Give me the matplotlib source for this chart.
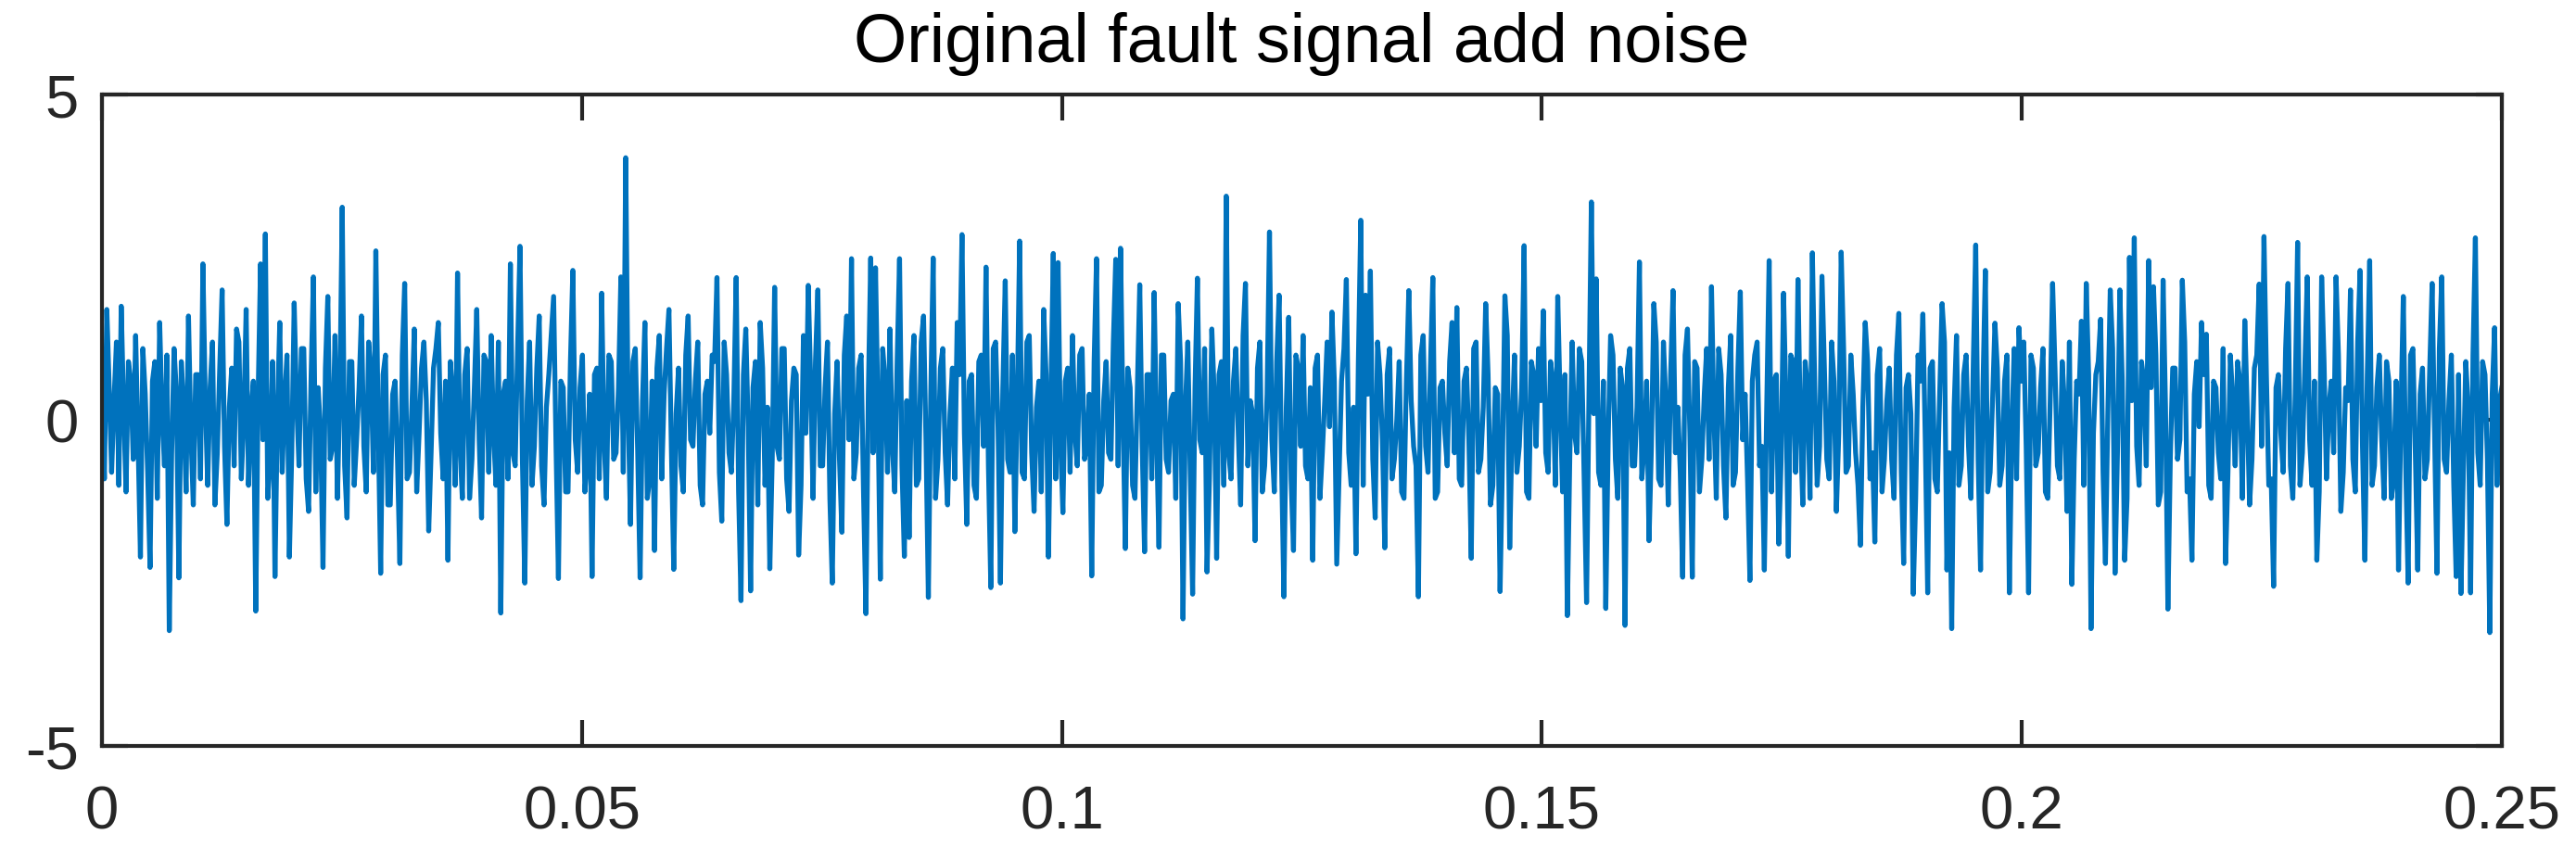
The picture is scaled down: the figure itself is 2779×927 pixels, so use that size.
import numpy as np
import matplotlib
matplotlib.use("Agg")
import matplotlib.pyplot as plt

plt.rcParams['font.family'] = ['Liberation Sans', 'DejaVu Sans']
plt.rcParams['axes.unicode_minus'] = False

# sygnal, 5 odcinkow po 0.05 s (wierzcholki)
odc1 = [0.3, 1.7, -0.8, 1.2, 1.75, -1.1, 0.6, 1.3, -2.1, 0.4,
        -2.26, 0.9, 1.5, -0.7, -3.23, 1.1, -2.42, 0.2, 1.6, -1.3,
        0.7, 2.4, -1.0, 1.2, -0.5, 2.0, -1.6, 0.8, 1.4, -0.9,
        1.7, 0.1, -2.93, 2.4, 2.86, -0.6, -2.4, 1.5, 0.3, -2.1,
        1.8, -0.7, 1.1, -1.4, 2.2, 0.5, -2.26, 1.9, -0.4, -1.2,
        3.27, -1.5, 0.9, -0.3, 1.6, -1.1, 0.7, 2.6, -2.35, 1.0,
        -1.3, 0.6, -2.2, 2.1, -0.8, 1.4, -0.2, 1.2, -1.7, 0.8,
        1.5, -0.9, -2.15, 0.4, 2.26, -1.2, 1.1, -0.6, 1.7, -1.5,
        0.9, 1.3, -1.0, -2.96, 0.6, 2.4, -0.7, 2.67, -2.5, 1.2,
        -0.4, 1.6, -1.3, 0.7, 1.9, -2.43, 0.5, -1.1, 2.3, -0.8]
odc2 = [1.0, -0.6, -2.4, 0.8, 1.95, -1.2, 0.9, -0.5, 2.2, 4.03,
        -1.6, 1.1, -2.42, 1.5, -0.9, -2.0, 1.3, 0.4, 1.7, -2.29,
        0.8, -1.1, 1.6, -0.4, 1.2, -1.3, 0.6, 1.0, 2.19, -1.55,
        0.7, -0.8, 2.19, -2.77, 1.4, -2.62, 0.9, 1.5, -1.0, -2.28,
        2.04, -0.6, 1.1, -1.4, 0.8, -2.07, 1.3, 2.07, -1.2, 2.0,
        -0.7, 1.2, -2.5, 0.9, -1.72, 1.6, 2.48, -0.5, 1.0, -2.97,
        2.49, 2.34, -2.44, 0.6, 1.4, -1.1, 2.48, -2.09, -1.8, 1.3,
        -0.9, 1.6, -2.72, 2.49, -0.6, 1.1, -1.3, 0.8, 1.5, 2.85,
        -1.6, 0.7, -1.2, 1.0, 2.35, -2.57, 1.2, -2.5, 2.14, -0.8,
        -1.71, 2.75, -0.9, 1.3, -1.4, 0.6, 1.7, -2.1, 2.56, 2.42]
odc3 = [-1.42, 0.8, 1.3, -0.7, 1.1, -0.4, -2.39, 2.48, -1.0, 0.9,
        -0.6, 2.47, 2.64, -1.97, 0.5, -1.2, 2.08, -2.02, 0.7, 1.96,
        -1.95, 1.0, -0.8, 0.4, 1.79, -3.05, 1.2, -2.67, 2.18, -0.5,
        -2.33, 1.4, -2.12, 0.9, 3.44, -0.9, 1.1, -1.3, 2.1, 0.3,
        -1.85, 1.2, -0.7, 2.89, -1.1, 1.92, -2.71, 1.58, -2.0, 0.8,
        1.3, -0.9, -2.15, 1.0, -0.5, 1.2, 1.66, -2.21, 0.6, 2.16,
        -1.0, -2.05, 3.07, 1.92, 2.29, -1.5, 0.7, -1.96, 1.1, -0.6,
        0.9, -1.2, 1.99, -0.4, -2.71, 1.3, -0.8, 2.19, -1.1, 0.6,
        -0.7, 1.5, 1.73, -1.0, 0.8, -2.12, 1.2, -0.6, 1.79, -1.3,
        0.5, -2.63, 1.91, -1.96, 1.0, -0.4, 2.68, -1.2, 0.7, 1.1]
odc4 = [1.68, -0.8, 0.6, 1.9, -1.1, -3.0, 1.2, -0.5, 0.9, -2.8,
        3.35, 2.17, -1.0, -2.89, 1.3, -0.6, 0.8, -3.15, 1.1, -0.7,
        2.43, -0.4, -1.85, 1.79, -0.9, 1.2, -1.3, 1.99, 0.2, -2.41,
        1.4, -2.41, 0.8, -0.6, 1.1, 2.05, -1.2, 0.7, -1.5, 1.3,
        -0.8, 1.97, 0.4, -2.46, 1.0, -0.7, -2.3, 2.45, 0.6, -1.9,
        1.95, -2.09, 0.9, 2.16, -1.3, 0.5, 2.57, -1.0, 2.21, -0.6,
        1.2, -1.4, 2.58, -0.8, 1.0, -0.5, -1.92, 1.5, -0.9, -1.87,
        1.1, -0.6, 0.8, -1.2, 1.64, -2.2, 0.7, -2.67, 1.0, 1.63,
        -2.65, 0.9, -1.1, 1.79, -2.3, -3.2, 1.3, -0.7, 1.0, -1.2,
        2.69, -2.3, 2.3, -0.8, 1.49, -1.0, 0.6, -2.65, 1.1, 1.42]
odc5 = [1.2, -2.65, 0.8, -0.5, 1.1, -1.2, 2.1, -0.7, 0.9, -1.4,
        -2.52, 0.6, 1.52, 2.1, -3.2, 0.7, 1.55, -2.2, 2.0, -2.35,
        2.0, -2.15, 2.5, 2.8, -1.0, 0.6, 2.45, 2.05, -1.3, 2.15,
        -2.9, 0.8, -0.6, 2.15, -1.1, -2.15, 0.9, 1.5, 1.32, -1.2,
        0.5, -0.9, -2.2, 1.0, -0.7, 0.6, 1.53, -1.3, 0.8, 2.09,
        2.82, -1.0, -2.55, 0.7, -0.8, 2.1, -1.2, 2.73, -0.5, 2.2,
        -1.0, -2.15, 2.2, -0.9, 0.6, 2.2, -1.4, 0.5, 2.0, -1.1,
        2.3, -2.15, 2.45, -0.7, 1.0, -1.2, 0.6, -0.9, -2.3, 1.9,
        -2.5, 1.1, -2.3, 0.8, -0.6, 2.1, -2.35, 2.2, -0.8, 1.0,
        -2.4, -2.66, 0.9, -2.65, 2.8, -1.0, 0.7, -3.26, 1.42, 0.3]

# probki posrednie (gesty pas wokol zera)
pos1 = [-0.9, 0.5, 0.3, -1.0, 0.2, 0.9, -0.6, -0.3, 1.1, -0.8,
        0.6, -1.2, 0.1, 1.0, -0.5, 0.4, 0.9, -1.1, -0.2, 0.7,
        -0.9, 0.3, 0.5, -1.3, 0.8, -0.4, 0.2, -0.7, 1.2, 0.0,
        -1.0, 0.6, 0.4, -0.3, -1.2, 0.9, 0.1, -0.8, 1.0, -0.5,
        0.3, 1.1, -0.9, 0.6, -1.1, -0.2, 0.8, -0.6, 1.3, 0.4,
        -0.7, 0.9, -1.0, 0.5, -0.4, 1.2, -0.8, -0.1, 0.7, -1.3,
        0.4, -0.6, 1.0, -0.9, 0.2, -1.1, 0.8, 0.3, -0.5, 1.1,
        -0.2, 0.6, 0.9, -1.0, -0.4, 0.7, -1.2, 0.5, -0.3, 1.0,
        -0.8, -0.2, 1.2, 0.4, -0.9, -0.5, 1.1, -0.6, 0.3, -1.0,
        0.8, -0.7, 0.2, 1.3, -0.4, 0.6, -1.1, 0.9, -0.3, 0.5]
pos2 = [-1.1, 0.4, 0.7, -0.9, -0.3, 1.0, -0.6, 0.5, -0.8, 0.2,
        0.9, -0.5, 0.3, -1.2, 0.6, 0.8, -0.9, 1.1, -0.4, 0.1,
        -0.7, 1.0, -0.3, 0.6, -1.0, 0.4, -0.2, 0.9, -0.8, 1.2,
        -0.5, 0.3, -1.1, 0.7, -0.1, 0.5, -1.3, 0.8, 0.2, -0.6,
        -0.4, 1.1, -0.9, 0.3, 0.7, -1.0, -0.2, 0.6, 0.9, -0.7,
        0.5, -1.2, 0.1, -0.6, 1.0, -0.3, -0.9, 0.8, -1.1, 0.4,
        -0.5, 0.2, 1.1, -0.8, -0.4, 0.9, -0.7, 0.3, 0.6, -1.0,
        1.2, -0.3, 0.4, -1.2, 0.8, -0.5, 0.1, -0.9, 0.7, -0.2,
        0.6, -1.0, 0.9, -0.4, -0.7, 1.1, -0.1, 0.5, -0.6, 1.0,
        0.3, -0.8, 1.2, -0.5, 0.2, -1.1, 0.7, 0.4, -0.9, -0.3]
pos3 = [0.6, -0.8, -0.2, 1.0, -0.6, 0.4, 0.9, -1.1, 0.3, -0.5,
        1.2, -0.7, 0.1, 0.8, -1.0, 0.5, -0.4, 0.7, -0.9, -0.2,
        1.0, -0.6, 0.3, -1.2, 0.9, 0.2, -0.8, 0.5, -0.3, 1.1,
        -0.9, 0.4, 0.7, -1.0, -0.5, 0.6, -0.2, 1.3, -0.7, 0.1,
        0.8, -1.1, 0.4, -0.3, 0.9, -0.6, 0.2, -0.9, 1.0, -0.4,
        -0.7, 0.5, 0.8, -1.2, 0.3, -0.1, 0.6, -0.8, 1.1, -0.5,
        0.2, 0.9, -1.0, 0.4, -0.6, 1.2, -0.3, 0.7, -0.9, 0.0,
        -1.1, 0.6, 0.3, -0.7, 1.0, -0.4, 0.8, -1.2, 0.5, -0.2,
        0.9, -0.5, -0.9, 0.6, -0.3, 1.1, -0.8, 0.2, 0.7, -1.0,
        0.4, -0.6, 1.3, -0.1, -0.8, 0.5, -1.1, 0.9, -0.4, 0.3]
pos4 = [-0.5, 0.9, -1.0, 0.3, 0.7, -0.6, -0.2, 1.1, -0.9, 0.4,
        0.1, -0.8, 0.6, -0.3, 1.0, -1.2, 0.5, 0.8, -0.7, 0.2,
        -0.9, 0.6, -0.4, 1.2, -1.0, 0.3, 0.7, -0.5, -0.8, 1.0,
        -0.2, 0.9, -1.1, 0.4, -0.6, 0.1, 1.1, -0.7, 0.5, -1.0,
        0.8, -0.3, -0.9, 0.6, 1.2, -0.4, 0.2, -1.1, 0.7, -0.6,
        0.3, 1.0, -0.8, -0.1, 0.9, -1.2, 0.5, -0.4, 0.8, -0.9,
        0.6, -0.2, 1.1, -0.7, 0.4, -1.0, 0.2, 0.9, -0.5, 0.7,
        -1.1, 0.3, -0.6, 1.0, -0.8, 0.5, 0.1, -1.2, 0.6, -0.3,
        0.8, -0.9, 0.4, 1.2, -0.5, 0.2, -1.0, 0.7, -0.4, 0.9,
        -0.6, 0.5, -1.1, 0.3, 0.8, -0.7, 1.0, -0.2, -0.9, 0.6]
pos5 = [-0.4, 1.0, -0.7, 0.5, -1.1, 0.3, 0.8, -0.9, 0.2, 1.2,
        -0.6, 0.4, -1.0, 0.7, -0.2, 0.9, -0.8, 0.1, 1.1, -0.5,
        0.6, -1.2, 0.3, -0.4, 0.9, -0.7, 0.5, 1.0, -1.1, 0.2,
        -0.6, 0.8, -0.3, 1.2, -0.9, 0.4, -0.1, 0.7, -1.0, 0.6,
        -0.5, 1.1, -0.8, 0.3, 0.9, -1.2, 0.2, -0.6, 1.0, -0.4,
        0.7, -0.9, 0.5, -0.2, 1.1, -0.7, 0.4, -1.0, 0.8, -0.3,
        0.6, -1.1, 0.9, 0.2, -0.5, 1.0, -0.8, 0.3, -0.6, 1.2,
        -0.4, 0.7, -1.0, 0.5, -0.3, 0.9, -1.2, 0.6, 0.1, -0.7,
        1.0, -0.5, 0.4, -0.9, 0.8, -0.2, 1.1, -0.6, 0.3, -1.0,
        0.7, -0.8, 0.2, 1.0, -0.5, 0.9, -0.6, 0.4, -1.0, 0.5]

glowne = np.array(odc1 + odc2 + odc3 + odc4 + odc5)
posrednie = np.array(pos1 + pos2 + pos3 + pos4 + pos5)
sygnal = np.empty(len(glowne) + len(posrednie))
sygnal[0::2] = glowne
sygnal[1::2] = posrednie
czas = np.linspace(0, 0.25, len(sygnal))

xticki = [0, 0.05, 0.1, 0.15, 0.2, 0.25]
xpodpisy = ['0', '0.05', '0.1', '0.15', '0.2', '0.25']
yticki = [-5, 0, 5]
ypodpisy = ['-5', '0', '5']
tytul = 'Original fault signal add noise'

fig = plt.figure(figsize=(27.79, 9.28), dpi=100)
ax = fig.add_axes([0.0396, 0.1315, 0.9316, 0.7575])
ax.plot(czas, sygnal, color='#0072BD', linewidth=3.8)
ax.set_xlim(0, 0.25)
ax.set_ylim(-5, 5)
ax.set_xticks(xticki)
ax.set_xticklabels(xpodpisy)
ax.set_yticks(yticki)
ax.set_yticklabels(ypodpisy)
ax.tick_params(direction='in', length=20, width=3, color='#262626',
               labelsize=47, labelcolor='#262626', top=True, right=True)
ax.tick_params(axis='x', pad=30)
ax.tick_params(axis='y', pad=18)
for s in ax.spines.values():
    s.set_linewidth(3)
    s.set_color('#262626')
ax.set_title(tytul, fontsize=53, pad=26, color='black')
fig.savefig('out.png', dpi=100)
